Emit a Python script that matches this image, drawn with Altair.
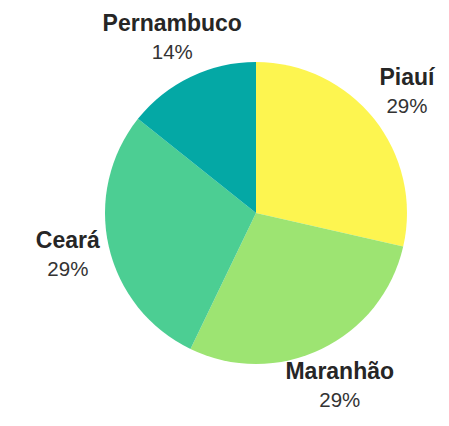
import altair as alt
import pandas as pd

categories = ["Piauí", "Maranhão", "Ceará", "Pernambuco"]
values = [2, 2, 2, 1]
colors = ["#FDF550", "#9DE472", "#4CCE93", "#04A8A5"]

total = sum(values)
pct_labels = [f"{round(v / total * 100)}%" for v in values]

df = pd.DataFrame({
    "cat": categories,
    "value": values,
    "pct": pct_labels,
    "order": list(range(len(categories))),
})

cx, cy = 248, 205
R = 151
RL = 193

base = alt.Chart(df).encode(
    theta=alt.Theta("value:Q", stack=True),
    order=alt.Order("order:Q"),
    x=alt.value(cx),
    y=alt.value(cy),
)

pie = base.mark_arc(outerRadius=R, strokeWidth=0).encode(
    color=alt.Color("cat:N", scale=alt.Scale(domain=categories, range=colors), legend=None)
)

names = base.mark_text(font="Liberation Sans", fontSize=23, fontWeight="bold", color="#262626", dy=-15, baseline="middle", align="center").encode(
    radius=alt.value(RL), text="cat:N"
)
pcts = base.mark_text(font="Liberation Sans", fontSize=20.5, color="#333333", dy=14, baseline="middle", align="center").encode(
    radius=alt.value(RL), text="pct:N"
)

chart = alt.layer(pie, names, pcts).properties(
    width=428, height=404, padding=0, background="white",
    autosize=alt.AutoSizeParams(type="none")
).configure_view(strokeWidth=0, stroke="transparent")

chart.save("out.html", embed_options={"renderer": "svg", "actions": False})
